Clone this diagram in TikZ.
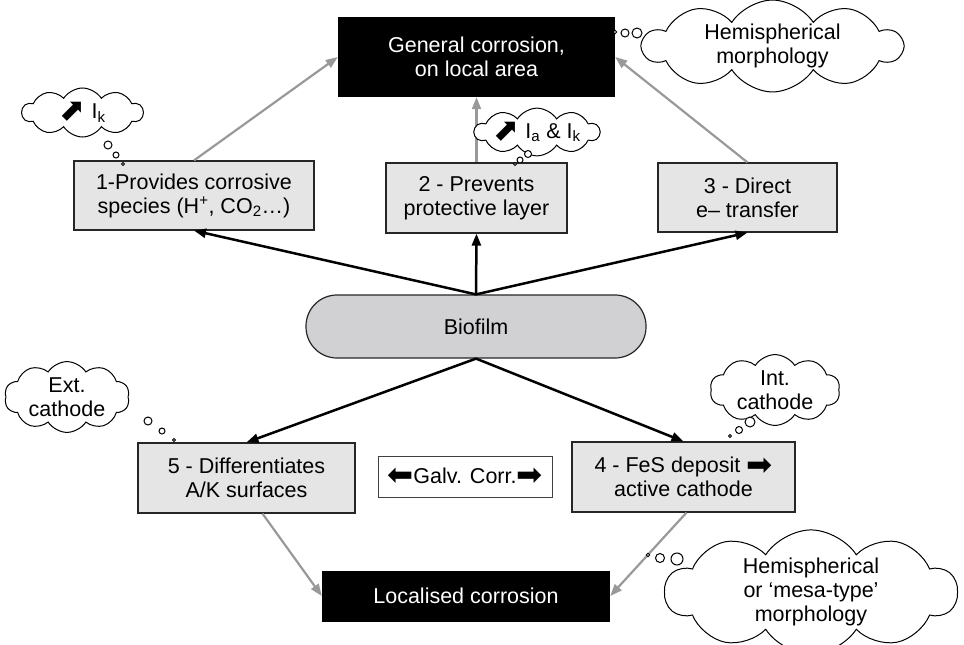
\documentclass[tikz,border=0pt]{standalone}
\usepackage{fontspec}
\usepackage{graphicx}
\setmainfont{Liberation Sans}
\newfontfamily\symfont{DejaVu Sans}
\usetikzlibrary{shapes.symbols,arrows.meta}

% heavy arrows used inside the labels
\newcommand{\rarr}{\raisebox{-0.12em}{\scalebox{1.45}{\symfont ➡}}}
\newcommand{\larr}{\raisebox{-0.12em}{\scalebox{1.45}{\symfont ⬅}}}
\newcommand{\uparr}{\raisebox{-0.1em}{\scalebox{1.45}{\symfont ⬈}}}

\definecolor{boxfill}{HTML}{E5E5E5}
\definecolor{biofill}{HTML}{D1D1D3}
\definecolor{linkgray}{HTML}{999999}

\tikzset{
  lbl/.style={align=center, font=\fontsize{21.5}{24}\selectfont, inner sep=0pt},
  greybox/.style={lbl, draw=black!85, line width=1.2pt, fill=boxfill},
  darkbox/.style={lbl, fill=black, text=white},
  biobox/.style={lbl, draw=black!85, line width=1.2pt, fill=biofill, rounded corners=31pt},
  galvbox/.style={lbl, draw=black!75, line width=1pt, fill=white},
  thought/.style={lbl, cloud, cloud puffs=10, cloud puff arc=115, cloud ignores aspect,
    draw=black, line width=1pt, fill=white},
  bubble/.style={circle, draw=black, line width=1pt, fill=white, inner sep=0pt},
  blk/.style={draw=black, line width=2.5pt, -{Triangle[length=12pt,width=9pt]}},
  gry/.style={draw=linkgray, line width=2.2pt, -{Triangle[length=12pt,width=9pt]}},
}

\begin{document}
\begin{tikzpicture}[x=1pt, y=-1pt]
  \useasboundingbox (0,0) rectangle (964,645);

  % outcome boxes
  \node[darkbox, minimum width=277pt, minimum height=80pt] (gen) at (476.5,57) {General corrosion,\\on local area};
  \node[darkbox, minimum width=288pt, minimum height=51pt] (loc) at (466,596) {Localised corrosion};

  % mechanisms
  \node[greybox, minimum width=240pt, minimum height=69pt] (b1) at (194,195.5) {1-Provides corrosive\\species (H\textsuperscript{+}, CO\textsubscript{2}…)};
  \node[greybox, minimum width=181pt, minimum height=70pt] (b2) at (476.5,198) {2 - Prevents\\protective layer};
  \node[greybox, minimum width=179pt, minimum height=69pt] (b3) at (747.5,197.5) {3 - Direct\\e– transfer};
  \node[greybox, minimum width=217pt, minimum height=70pt] (b5) at (246.5,478) {5 - Differentiates\\A/K surfaces};
  \node[greybox, minimum width=223pt, minimum height=70pt] (b4) at (683.5,477) {4 - FeS deposit \rarr\\active cathode};
  \node[galvbox, minimum width=174pt, minimum height=41pt] (galv) at (465,476.5) {\larr Galv. Corr.\rarr};

  \node[biobox, minimum width=340pt, minimum height=63pt] (bio) at (476,326.5) {Biofilm};

  % links from the biofilm
  \draw[blk] (bio.north) -- (b1.south);
  \draw[blk] (bio.north) -- (b2.south);
  \draw[blk] (bio.north) -- (b3.south);
  \draw[blk] (bio.south) -- (b5.north);
  \draw[blk] (bio.south) -- (b4.north);

  % links to the outcomes
  \draw[gry] (b1.north) -- (gen.west);
  \draw[gry] (b2.north) -- (gen.south);
  \draw[gry] (b3.north) -- (gen.east);
  \draw[gry] ([xshift=16pt]b5.south) -- (loc.west);
  \draw[gry] ([xshift=3pt]b4.south) -- (loc.east);

  % thought clouds
  \node[thought, minimum width=121pt, minimum height=49pt] (c1) at (82.5,112.5) {\uparr\ I\textsubscript{k}};
  \node[bubble, minimum size=8pt] (c1a) at (108,145) {};
  \node[bubble, minimum size=6pt] (c1b) at (116,155) {};
  \node[bubble, minimum size=3pt] (c1c) at (123,164) {};

  \node[thought, minimum width=125pt, minimum height=40pt] (c2) at (537,132) {\uparr\ I\textsubscript{a} \& I\textsubscript{k}};
  \node[bubble, minimum size=7pt] (c2a) at (528,154) {};
  \node[bubble, minimum size=6pt] (c2b) at (520,160) {};
  \node[bubble, minimum size=3pt] (c2c) at (515,164) {};

  \node[thought, minimum width=259pt, minimum height=73pt] (c3) at (772.5,46) {Hemispherical\\morphology};
  \node[bubble, minimum size=10pt] (c3a) at (637,33) {};
  \node[bubble, minimum size=8pt] (c3b) at (625,33) {};
  \node[bubble, minimum size=3.5pt] (c3c) at (615,32) {};

  \node[thought, minimum width=125pt, minimum height=50pt] (c4) at (67,397) {Ext.\\cathode};
  \node[bubble, minimum size=8pt] (c4a) at (148,421) {};
  \node[bubble, minimum size=6pt] (c4b) at (162,431) {};
  \node[bubble, minimum size=3pt] (c4c) at (174,440) {};

  \node[thought, minimum width=130pt, minimum height=60pt] (c5) at (775,390) {Int.\\cathode};
  \node[bubble, minimum size=10pt] (c5a) at (750,422) {};
  \node[bubble, minimum size=7pt] (c5b) at (739,430) {};
  \node[bubble, minimum size=3pt] (c5c) at (730,436) {};

  \node[thought, minimum width=292pt, minimum height=98pt] (c6) at (811,592) {Hemispherical\\or ‘mesa-type’\\morphology};
  \node[bubble, minimum size=12pt] (c6a) at (677,559) {};
  \node[bubble, minimum size=9pt] (c6b) at (660,558) {};
  \node[bubble, minimum size=3.5pt] (c6c) at (648,555) {};
\end{tikzpicture}
\end{document}
